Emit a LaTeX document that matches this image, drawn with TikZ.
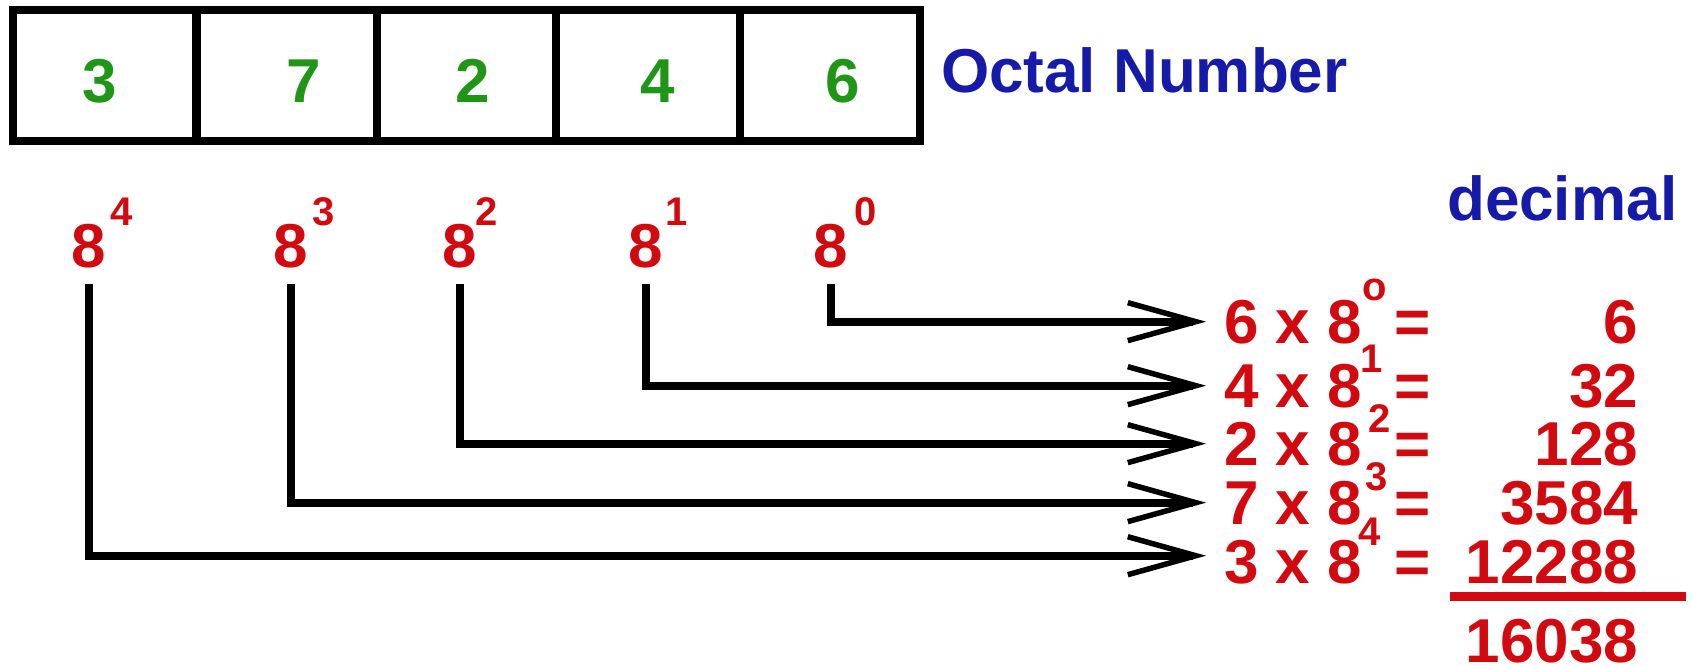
\documentclass[tikz,border=0pt]{standalone}
\usepackage{fontspec}
\setmainfont{Liberation Sans}
\usetikzlibrary{arrows.meta,calc}
\definecolor{ored}{RGB}{210,10,15}
\definecolor{oblue}{RGB}{22,26,168}
\definecolor{ogreen}{RGB}{32,150,22}
\begin{document}
\begin{tikzpicture}[x=1pt,y=-1pt,
  big/.style={font=\fontsize{62}{70}\selectfont\bfseries, inner sep=0pt, outer sep=0pt},
  sup/.style={font=\fontsize{40}{46}\selectfont\bfseries, inner sep=0pt, outer sep=0pt, text=ored, anchor=base west},
  cell/.style={draw=black, line width=8pt, minimum height=131pt, inner sep=0pt},
  link/.style={line width=8pt, -{Straight Barb[length=68pt,width=38pt,line width=5.5pt]}, shorten >=18pt},
]
\useasboundingbox (0,0) rectangle (1691,666);
\fill[white] (0,0) rectangle (1691,666);

% cells
\node[cell, minimum width=184pt] (c1) at (105,75.5) {};
\node[cell, minimum width=181pt] (c2) at (286.5,75.5) {};
\node[cell, minimum width=179pt] (c3) at (466.5,75.5) {};
\node[cell, minimum width=184pt] (c4) at (648,75.5) {};
\node[cell, minimum width=180pt] (c5) at (830,75.5) {};

% octal digits
\node[big, text=ogreen, anchor=base] (d1) at (100,103) {3};
\node[big, text=ogreen, anchor=base] (d2) at (304,103) {7};
\node[big, text=ogreen, anchor=base] (d3) at (473,103) {2};
\node[big, text=ogreen, anchor=base] (d4) at (658,103) {4};
\node[big, text=ogreen, anchor=base] (d5) at (843,103) {6};

% labels
\node[big, text=oblue, anchor=base west] (lbl) at (941,93) {Octal Number};
\node[big, text=oblue, anchor=base east] (dec) at (1678,220) {decimal};

% powers
\node[big, text=ored, anchor=base] (p4) at (89,267) {8};
\node[sup] (s4) at (110,225) {4};
\node[big, text=ored, anchor=base] (p3) at (291,267) {8};
\node[sup] (s3) at (312,225) {3};
\node[big, text=ored, anchor=base] (p2) at (460,267) {8};
\node[sup] (s2) at (475,225) {2};
\node[big, text=ored, anchor=base] (p1) at (646,267) {8};
\node[sup] (s1) at (665,225) {1};
\node[big, text=ored, anchor=base] (p0) at (831,267) {8};
\node[sup] (s0) at (854,225) {0};

% equations
\node[big, text=ored, anchor=base west] (e0) at (1224,343) {6 x 8};
\node[sup] (t0) at (1362,300) {o};
\node[big, text=ored, anchor=base west] (q0) at (1394,343) {=};
\node[big, text=ored, anchor=base east] (r0) at (1638,343) {6};

\node[big, text=ored, anchor=base west] (e1) at (1224,407) {4 x 8};
\node[sup] (t1) at (1360,372) {1};
\node[big, text=ored, anchor=base west] (q1) at (1394,407) {=};
\node[big, text=ored, anchor=base east] (r1) at (1638,407) {32};

\node[big, text=ored, anchor=base west] (e2) at (1224,465) {2 x 8};
\node[sup] (t2) at (1368,432) {2};
\node[big, text=ored, anchor=base west] (q2) at (1394,465) {=};
\node[big, text=ored, anchor=base east] (r2) at (1638,465) {128};

\node[big, text=ored, anchor=base west] (e3) at (1224,524) {7 x 8};
\node[sup] (t3) at (1365,490) {3};
\node[big, text=ored, anchor=base west] (q3) at (1394,524) {=};
\node[big, text=ored, anchor=base east] (r3) at (1638,524) {3584};

\node[big, text=ored, anchor=base west] (e4) at (1224,583) {3 x 8};
\node[sup] (t4) at (1358,545) {4};
\node[big, text=ored, anchor=base west] (q4) at (1394,583) {=};
\node[big, text=ored, anchor=base east] (r4) at (1638,583) {12288};

% sum line and total
\coordinate (sumL) at (1450,596);
\coordinate (sumR) at (1686,596);
\draw[ored, line width=9pt] (sumL) -- (sumR);
\node[big, text=ored, anchor=base east] (tot) at (1638,662) {16038};

% connectors
\draw[link] ($(p0.base)+(0,17)$) |- (e0.west);
\draw[link] ($(p1.base)+(0,17)$) |- (e1.west);
\draw[link] ($(p2.base)+(0,17)$) |- (e2.west);
\draw[link] ($(p3.base)+(0,17)$) |- (e3.west);
\draw[link] ($(p4.base)+(0,17)$) |- ([yshift=6pt]e4.west);
\end{tikzpicture}
\end{document}
